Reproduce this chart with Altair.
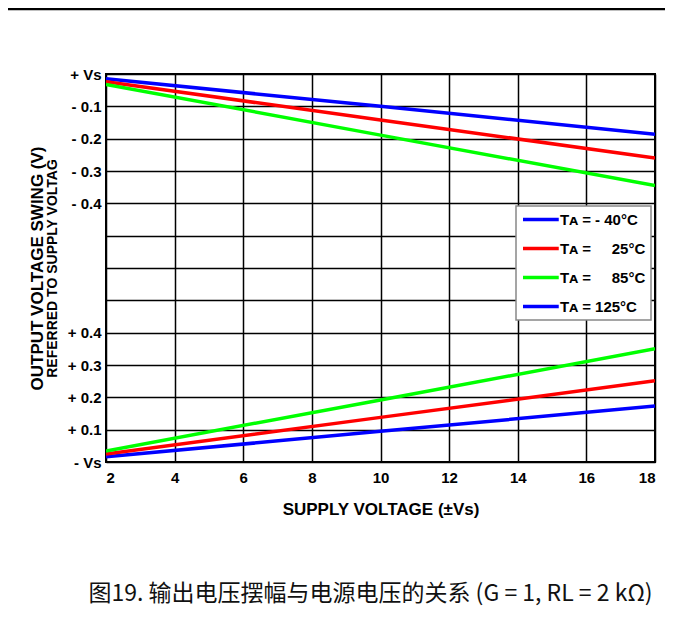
import json
import altair as alt
import pandas as pd

# ---- data (y in grid-row units: 0 = -Vs rail, 12 = +Vs rail)
x_vals = [2, 10, 18]
top_m40 = [11.85, 11.00, 10.14]
top_25 = [11.76, 10.58, 9.40]
top_85 = [11.68, 10.11, 8.55]
bot_m40 = [0.16, 0.95, 1.73]
bot_25 = [0.25, 1.38, 2.51]
bot_85 = [0.34, 1.92, 3.50]

series = ["T\u1d00 = - 40°C", "T\u1d00 =\u2007\u2007 25°C", "T\u1d00 =\u2007\u2007 85°C", "T\u1d00 = 125°C"]
colors = ["#0000ff", "#ff0000", "#00ff00", "#0000ff"]

y_ticks = list(range(13))
y_labels = ["- Vs", "+ 0.1", "+ 0.2", "+ 0.3", "+ 0.4", "", "", "", "- 0.4", "- 0.3", "- 0.2", "- 0.1", "+ Vs"]
x_ticks = [2, 4, 6, 8, 10, 12, 14, 16, 18]

rows = []
for name, region, vals in [
    (series[0], "top", top_m40), (series[1], "top", top_25), (series[2], "top", top_85),
    (series[0], "bot", bot_m40), (series[1], "bot", bot_25), (series[2], "bot", bot_85),
]:
    for xv, yv in zip(x_vals, vals):
        rows.append({"x": xv, "y": yv, "series": name, "region": region})
df = pd.DataFrame(rows)

FONT = "Liberation Sans, Arial, sans-serif"
W, H = 549, 388

xenc = alt.X("x:Q", scale=alt.Scale(domain=[2, 18], nice=False, zero=False),
             axis=alt.Axis(values=x_ticks, title="SUPPLY VOLTAGE (±Vs)", format="d",
                           labelFontSize=15, labelPadding=8, titleFontSize=17, titlePadding=16))

lines = alt.Chart(df).mark_line(strokeWidth=3.5, clip=True).encode(
    x=xenc,
    y=alt.Y("y:Q", scale=alt.Scale(domain=[0, 12], nice=False, zero=False),
            axis=alt.Axis(values=y_ticks, labelExpr=json.dumps(y_labels) + "[datum.value]",
                          title="REFERRED TO SUPPLY VOLTAG",
                          labelFontSize=15, labelPadding=5, titleFontSize=14, titlePadding=8)),
    color=alt.Color("series:N", scale=alt.Scale(domain=series, range=colors),
                    legend=alt.Legend(title=None, orient="none", legendX=410, legendY=132)),
    detail="region:N",
)

outer = alt.Chart(df).mark_line(opacity=0).encode(
    x=xenc,
    y=alt.Y("y:Q", scale=alt.Scale(domain=[0, 12], nice=False, zero=False),
            axis=alt.Axis(orient="left", title="OUTPUT VOLTAGE SWING (V)", labels=False,
                          grid=False, ticks=False, domain=False, offset=58,
                          titleFontSize=17, titlePadding=2)),
    detail="region:N",
)

frame = alt.Chart(pd.DataFrame({"k": [0]})).mark_rule(color="black", strokeWidth=2.5).encode(
    x=alt.value(-98), x2=alt.value(W + 12), y=alt.value(-65)
)

chart = alt.layer(frame, lines, outer).resolve_scale(y="independent").properties(
    width=W, height=H,
    padding={"left": 98, "top": 66, "right": 10, "bottom": 152},
    autosize=alt.AutoSizeParams(type="none"),
    title=alt.TitleParams(
        "图19. 输出电压摆幅与电源电压的关系 (G = 1, RL = 2 kΩ)",
        orient="bottom", font="Noto Sans CJK SC", fontSize=23, fontWeight="normal",
        color="#111", offset=66, dx=-10,
    ),
).configure_view(stroke="black", strokeWidth=2).configure_axis(
    labelFont=FONT, titleFont=FONT, labelFontWeight="bold", titleFontWeight="bold",
    labelColor="black", titleColor="black", grid=True, gridColor="black", gridWidth=1.5,
    gridOpacity=1, domain=False, ticks=False,
).configure_legend(
    labelFont=FONT, labelFontWeight="bold", labelFontSize=15, labelColor="black",
    symbolType="M-1,0H4.5", symbolSize=169, symbolStrokeWidth=3.5, labelOffset=22,
    padding=5, rowPadding=12, fillColor="white", strokeColor="#888", strokeWidth=1.5,
)

chart.save("out.html", embed_options={"renderer": "svg", "actions": False})
